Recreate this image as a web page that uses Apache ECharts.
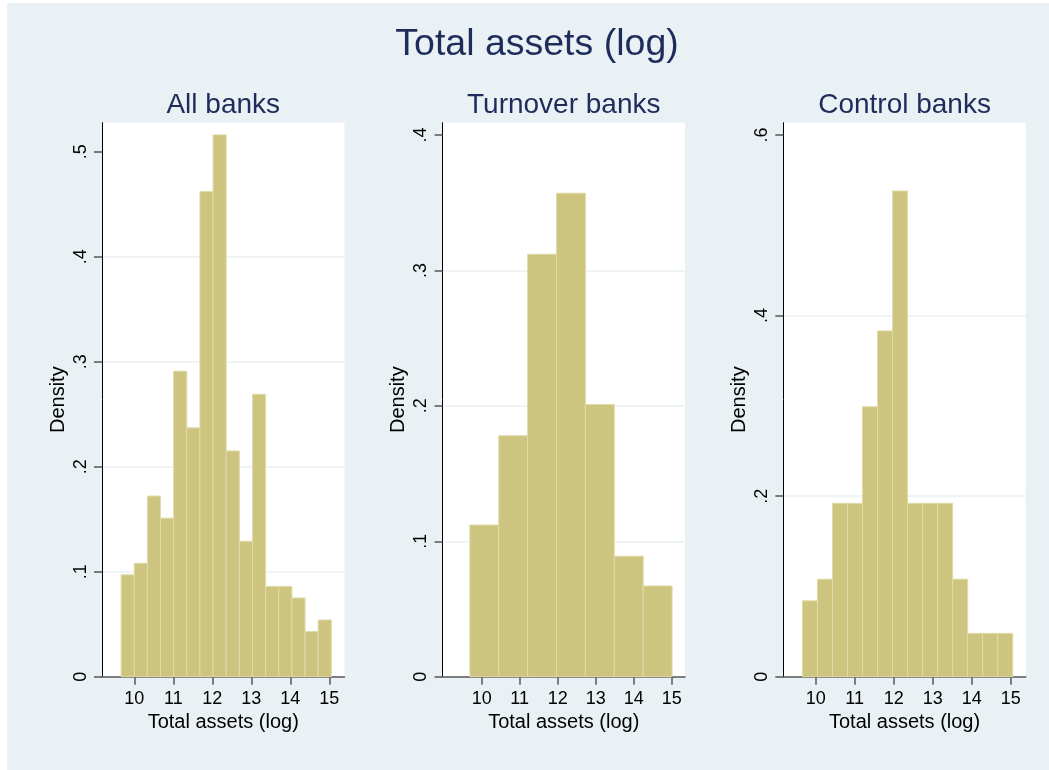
<!DOCTYPE html>
<html>
<head>
<meta charset="utf-8">
<script src="https://cdn.jsdelivr.net/npm/echarts@6/dist/echarts.min.js"></script>
<style>
html, body { margin: 0; padding: 0; background: #fff; }
#main { width: 1049px; height: 770px; }
</style>
</head>
<body>
<div id="main"></div>
<script>
// histogram densities
var allDensity = [0.097, 0.108, 0.172, 0.151, 0.291, 0.237, 0.462, 0.516, 0.215, 0.129, 0.269, 0.086, 0.086, 0.075, 0.043, 0.054];
var allStart = 9.66, allWidth = 0.337;
var turnDensity = [0.112, 0.178, 0.312, 0.357, 0.201, 0.089, 0.067];
var turnStart = 9.69, turnWidth = 0.76;
var ctrlDensity = [0.084, 0.108, 0.192, 0.192, 0.299, 0.383, 0.538, 0.192, 0.192, 0.192, 0.108, 0.048, 0.048, 0.048];
var ctrlStart = 9.66, ctrlWidth = 0.385;

var xTicks = [10, 11, 12, 13, 14, 15];
var allYTicks = [0, 0.1, 0.2, 0.3, 0.4, 0.5];
var turnYTicks = [0, 0.1, 0.2, 0.3, 0.4];
var ctrlYTicks = [0, 0.2, 0.4, 0.6];

var panelTitles = ["All banks", "Turnover banks", "Control banks"];
var mainTitle = "Total assets (log)";

var font = "'Liberation Sans', Arial, sans-serif", navy = "#1d2c5b", bg = "#eaf1f4";
var barFill = "#cdc47f", barLine = "#e0dba8";

function bins(start, width, dens) {
    var out = [];
    for (var i = 0; i < dens.length; i++) out.push([ start + i * width, start + (i + 1) * width, dens[i] ]);
    return out;
}

var panels = [
    { left: 102, xMin: 9.17, xMax: 15.39, yMax: 0.5276, yInt: 0.1, yTicks: allYTicks, data: bins(allStart, allWidth, allDensity) },
    { left: 442.5, xMin: 8.97, xMax: 15.35, yMax: 0.4091, yInt: 0.1, yTicks: turnYTicks, data: bins(turnStart, turnWidth, turnDensity) },
    { left: 783.3, xMin: 9.17, xMax: 15.385, yMax: 0.6136, yInt: 0.2, yTicks: ctrlYTicks, data: bins(ctrlStart, ctrlWidth, ctrlDensity) }
];
var plotTop = 122.7, plotH = 554, plotW = 242.5;

function yFmt(v) {
    if (Math.abs(v) < 1e-9) return "0";
    return v.toFixed(1).replace(/^0/, "");
}

var grid = [], xAxis = [], yAxis = [], series = [], title = [];
title.push({ text: mainTitle, left: 537, textAlign: "center", top: 26, padding: 0,
    textStyle: { fontFamily: font, fontWeight: "normal", fontSize: 37.5, color: navy } });

panels.forEach(function(p, k) {
    grid.push({ left: p.left, top: plotTop, width: plotW, height: plotH, show: true, backgroundColor: "#fff", borderWidth: 0 });
    title.push({ text: panelTitles[k], left: p.left + plotW / 2, textAlign: "center", top: 91, padding: 0,
        textStyle: { fontFamily: font, fontWeight: "normal", fontSize: 28, color: navy } });
    xAxis.push({
        type: "value", gridIndex: k, min: p.xMin, max: p.xMax,
        name: "Total assets (log)", nameLocation: "middle", nameGap: 29,
        nameTextStyle: { fontFamily: font, fontSize: 20, color: "#000" },
        axisLine: { show: true, onZero: false, lineStyle: { color: "#555", width: 1.5 } },
        axisTick: { show: true, length: 8, customValues: xTicks, lineStyle: { color: "#555", width: 1.5 } },
        axisLabel: { customValues: xTicks, margin: 13, fontFamily: font, fontSize: 18, color: "#000" },
        splitLine: { show: false }
    });
    yAxis.push({
        type: "value", gridIndex: k, min: 0, max: p.yMax, interval: p.yInt,
        name: "Density", nameLocation: "middle", nameGap: 34, nameRotate: 90,
        nameTextStyle: { fontFamily: font, fontSize: 20, color: "#000" },
        axisLine: { show: true, lineStyle: { color: "#000", width: 1 } },
        axisTick: { show: true, length: 8, customValues: p.yTicks, lineStyle: { color: "#555", width: 1.5 } },
        axisLabel: { customValues: p.yTicks, rotate: 90, margin: 12, formatter: yFmt, fontFamily: font, fontSize: 18, color: "#000" },
        splitLine: { show: true, showMaxLine: false, showMinLine: false, lineStyle: { color: bg, width: 1.5 } }
    });
    series.push({
        type: "custom", xAxisIndex: k, yAxisIndex: k, data: p.data,
        encode: { x: [0, 1], y: 2 },
        renderItem: function(params, api) {
            var a = api.coord([ api.value(0), api.value(2) ]), b = api.coord([ api.value(1), 0 ]);
            return { type: "rect", shape: { x: a[0], y: a[1], width: b[0] - a[0], height: b[1] - a[1] },
                style: { fill: barFill, stroke: barLine, lineWidth: 1 } };
        },
        z: 3
    });
});

var chart = echarts.init(document.getElementById("main"));
chart.setOption({
    animation: false,
    backgroundColor: "#fff",
    graphic: [ { type: "rect", left: 7, top: 3, shape: { width: 1042, height: 767 }, style: { fill: bg }, z: -10, silent: true } ],
    title: title,
    grid: grid,
    xAxis: xAxis,
    yAxis: yAxis,
    series: series
});
</script>
</body>
</html>
